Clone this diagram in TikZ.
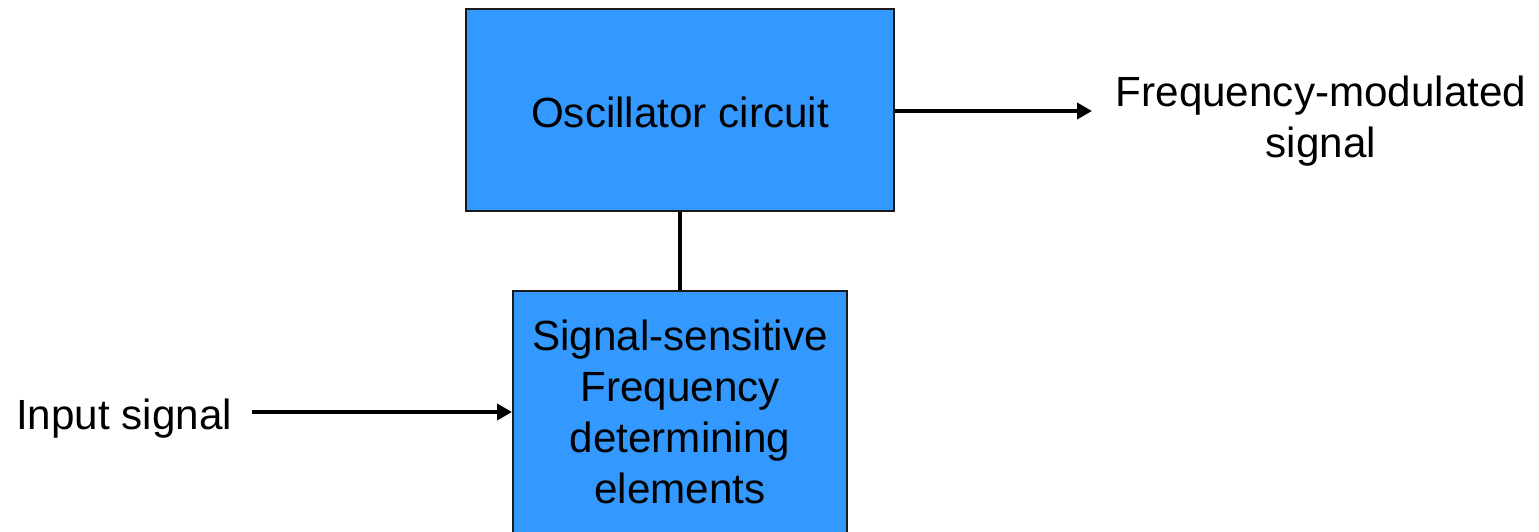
\documentclass[tikz,border=0pt]{standalone}
\usepackage{fontspec}
\setmainfont{Liberation Sans}
\usetikzlibrary{arrows.meta}
\definecolor{boxblue}{HTML}{3399FF}
\definecolor{boxedge}{HTML}{1A1A1A}
\tikzset{
  block/.style={draw=boxedge, line width=1pt, fill=boxblue, rectangle, inner sep=0pt},
  lbl/.style={inner sep=0pt, align=center, font=\fontsize{21.1pt}{25.5pt}\selectfont},
  conn/.style={line width=2pt, black},
  arr/.style={conn, -{Triangle[length=7.5pt,width=8pt]}}
}
\begin{document}
\begin{tikzpicture}[x=0.5pt,y=-0.5pt]
\useasboundingbox (0,0) rectangle (1539,531);
\clip (0,0) rectangle (1539,531);
\node[block, minimum width=214pt, minimum height=101pt] (osc) at (680,110) {};
\node[lbl] (osctext) at (680,112) {Oscillator circuit};
\node[block, minimum width=167pt, minimum height=140pt] (sig) at (680,431) {};
\node[lbl] (sigtext) at (680,412) {Signal-sensitive\\Frequency\\determining\\elements};
\node[lbl, anchor=base] (inlbl) at (124,429) {Input signal};
\node[lbl] (fmlbl) at (1321,121) {Frequency-modulated\\signal};
\coordinate (outend) at (1092,111);
\coordinate (instart) at (252,412);
\draw[conn] (osc.south) -- (sig.north);
\draw[arr] (osc.east |- outend) -- (outend);
\draw[arr] (instart) -- (sig.west |- instart);
\end{tikzpicture}
\end{document}
